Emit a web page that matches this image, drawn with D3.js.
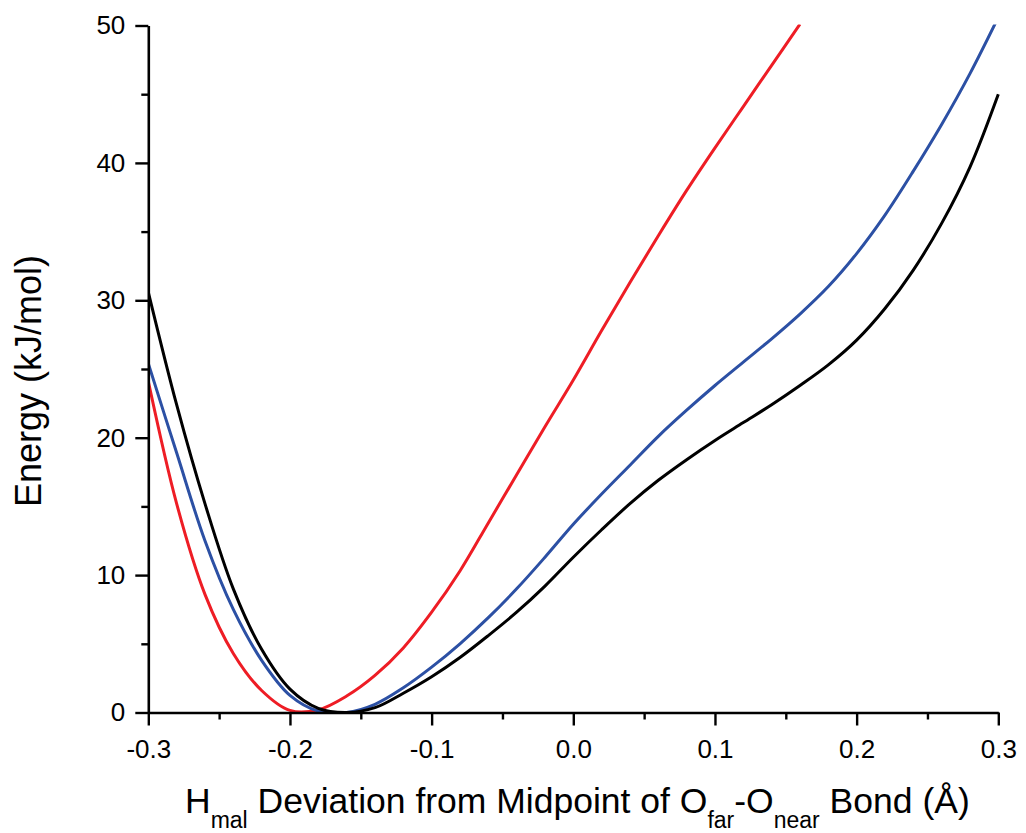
<!DOCTYPE html>
<html>
<head>
<meta charset="utf-8">
<script src="https://cdn.jsdelivr.net/npm/d3@7"></script>
<style>
  html, body { margin: 0; padding: 0; background: #fff; }
  svg text { font-family: "Liberation Sans", Arial, sans-serif; fill: #000; }
</style>
</head>
<body>
<svg id="chart" width="1026" height="833"></svg>
<script>
// Displacement of H_mal along the O_far–O_near bond (Å)
const displacement = [-0.30, -0.28, -0.26, -0.24, -0.22, -0.20, -0.18, -0.16, -0.14, -0.12,
                      -0.10, -0.08, -0.06, -0.04, -0.02, 0.00, 0.02, 0.04, 0.06, 0.08,
                      0.10, 0.12, 0.14, 0.16, 0.18, 0.20, 0.22, 0.24, 0.26, 0.28, 0.30];

// Potential energy profiles (kJ/mol)
const energyBlack = [30.6, 22.4, 15.2, 9.0, 4.6, 1.7, 0.3, 0.0, 0.35, 1.4,
                     2.6, 4.0, 5.6, 7.3, 9.2, 11.3, 13.3, 15.2, 16.9, 18.4,
                     19.8, 21.1, 22.4, 23.8, 25.3, 27.1, 29.4, 32.2, 35.6, 39.7, 45.0];
const energyBlue  = [25.4, 18.9, 12.5, 7.5, 3.8, 1.25, 0.1, 0.0, 0.6, 1.8,
                     3.3, 5.0, 6.9, 9.0, 11.3, 13.7, 15.9, 18.0, 20.1, 22.0,
                     23.8, 25.5, 27.2, 29.0, 31.0, 33.4, 36.2, 39.4, 42.8, 46.5, 50.6];
const energyRed   = [24.1, 15.2, 8.6, 4.3, 1.6, 0.15, 0.2, 1.2, 2.7, 4.7,
                     7.3, 10.3, 13.8, 17.3, 20.8, 24.2, 27.8, 31.3, 34.7, 38.0,
                     41.1, 44.1, 47.1, 50.1];

const xMajorTicks = [-0.3, -0.2, -0.1, 0.0, 0.1, 0.2, 0.3];
const xMinorTicks = [-0.25, -0.15, -0.05, 0.05, 0.15, 0.25];
const yMajorTicks = [0, 10, 20, 30, 40, 50];
const yMinorTicks = [5, 15, 25, 35, 45];

const svg = d3.select("#chart");
const plotLeft = 148.3, plotRight = 998.3, plotTop = 25.5, plotBottom = 712.5;

const x = d3.scaleLinear().domain([-0.3, 0.3]).range([plotLeft, plotRight]);
const y = d3.scaleLinear().domain([0, 50]).range([plotBottom, plotTop]);

svg.append("defs").append("clipPath").attr("id", "plotClip")
  .append("rect")
  .attr("x", plotLeft).attr("y", plotTop - 1)
  .attr("width", plotRight - plotLeft + 2).attr("height", plotBottom - plotTop + 1);

// Curves
const series = [
  { values: energyRed,   color: "#ee1d25" },
  { values: energyBlue,  color: "#2c50a4" },
  { values: energyBlack, color: "#000000" }
];

const line = d3.line()
  .x(d => x(d[0]))
  .y(d => y(d[1]))
  .curve(d3.curveCatmullRom.alpha(0.5));

const curves = svg.append("g").attr("clip-path", "url(#plotClip)");
series.forEach(s => {
  const pts = s.values.map((v, i) => [displacement[i], v]);
  curves.append("path")
    .datum(pts)
    .attr("fill", "none")
    .attr("stroke", s.color)
    .attr("stroke-width", 3)
    .attr("stroke-linejoin", "round")
    .attr("d", line);
});

// Axes
function styleAxis(g) {
  g.selectAll("path.domain").attr("stroke", "#000").attr("stroke-width", 2.6);
  g.selectAll(".tick line").attr("stroke", "#000").attr("stroke-width", 2.4);
  g.selectAll(".tick text")
    .attr("fill", "#000")
    .style("font-size", "26px")
    .style("font-family", "'Liberation Sans', Arial, sans-serif");
}

const xAxisG = svg.append("g").attr("transform", `translate(0,${plotBottom})`);
xAxisG.call(d3.axisBottom(x)
  .tickValues(xMajorTicks)
  .tickSize(13)
  .tickSizeOuter(0)
  .tickPadding(14)
  .tickFormat(d => (Math.abs(d) < 1e-9 ? 0 : d).toFixed(1)));
styleAxis(xAxisG);

const xMinorG = svg.append("g").attr("transform", `translate(0,${plotBottom})`);
xMinorG.call(d3.axisBottom(x).tickValues(xMinorTicks).tickSize(7).tickFormat(""));
xMinorG.select("path.domain").remove();
styleAxis(xMinorG);

const yAxisG = svg.append("g").attr("transform", `translate(${plotLeft},0)`);
yAxisG.call(d3.axisLeft(y)
  .tickValues(yMajorTicks)
  .tickSize(13)
  .tickSizeOuter(0)
  .tickPadding(10)
  .tickFormat(d3.format("d")));
styleAxis(yAxisG);

const yMinorG = svg.append("g").attr("transform", `translate(${plotLeft},0)`);
yMinorG.call(d3.axisLeft(y).tickValues(yMinorTicks).tickSize(7).tickFormat(""));
yMinorG.select("path.domain").remove();
styleAxis(yMinorG);

// Axis titles
const xTitle = svg.append("text")
  .attr("x", 185)
  .attr("y", 813)
  .style("font-size", "35.5px");
const sub = 15;
xTitle.append("tspan").text("H");
xTitle.append("tspan").attr("dy", sub).style("font-size", "23px").text("mal");
xTitle.append("tspan").attr("dy", -sub).text(" Deviation from Midpoint of O");
xTitle.append("tspan").attr("dy", sub).style("font-size", "23px").text("far");
xTitle.append("tspan").attr("dy", -sub).text("-O");
xTitle.append("tspan").attr("dy", sub).style("font-size", "23px").text("near");
xTitle.append("tspan").attr("dy", -sub).text(" Bond (Å)");

svg.append("text")
  .attr("transform", "translate(41,381) rotate(-90)")
  .attr("text-anchor", "middle")
  .style("font-size", "36px")
  .text("Energy (kJ/mol)");
</script>
</body>
</html>
